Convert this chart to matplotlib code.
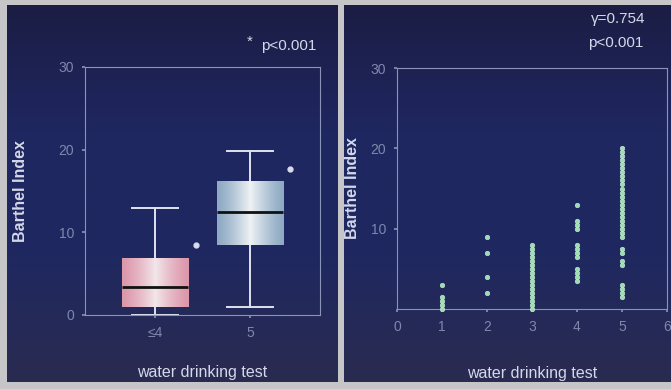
import numpy as np
import matplotlib
matplotlib.use("Agg")
import matplotlib.pyplot as plt
from matplotlib.colors import LinearSegmentedColormap

plt.rcParams['font.family'] = ['Liberation Sans', 'DejaVu Sans']

# ---- box plot: Barthel Index by water drinking test group ----
groups = ["≤4", "5"]
whisker_low = [0.0, 1.0]
q1 = [1.0, 8.5]
median = [3.4, 12.4]
q3 = [6.9, 16.2]
whisker_high = [13.0, 19.8]
sig_x = [1.43, 2.42]
sig_y = [8.5, 17.7]
box_edge_colors = ["#dc97aa", "#8eaac4"]
box_center_colors = ["#f2e6ea", "#eef2f4"]

# ---- scatter: Barthel Index per water drinking test score ----
score_1 = [0, 0.5, 1, 1.5, 3]
score_2 = [2, 4, 7, 9]
score_3 = [0, 0.5, 1, 1.5, 2, 2.5, 3, 3.5, 4, 4.5, 5, 5.5, 6, 6.5, 7, 7.5, 8]
score_4 = [3.5, 4, 4.5, 5, 6.5, 7, 7.5, 8, 10, 10.5, 11, 13]
score_5 = [1.5, 2, 2.5, 3, 5.5, 6, 7, 7.5,
           9, 9.5, 10, 10.5, 11, 11.5, 12, 12.5, 13, 13.5, 14, 14.5, 15,
           15.5, 16, 16.5, 17, 17.5, 18, 18.5, 19, 19.5, 20]
scores = [1, 2, 3, 4, 5]
barthel = [score_1, score_2, score_3, score_4, score_5]

W, H = 671, 389
fig = plt.figure(figsize=(W / 100, H / 100), dpi=100)
fig.patch.set_facecolor("#c6c6c8")

# dark panels with a soft vertical shading
panel_cmap = LinearSegmentedColormap.from_list(
    "panel", ["#2a2b50", "#1f2860", "#1f2760", "#1b1d44"])
shade = np.linspace(0, 1, 256)[:, np.newaxis]
for x0, x1 in [(7, 338), (344, 671)]:
    bg = fig.add_axes([x0 / W, 7 / H, (x1 - x0) / W, (384 - 7) / H],
                      zorder=-1)
    bg.imshow(shade, cmap=panel_cmap, aspect="auto", origin="lower",
              extent=[0, 1, 0, 1], interpolation="bilinear")
    bg.set_axis_off()

spine_color = "#8c93b8"
tick_color = "#7f88ab"
label_color = "#d4d8ea"


def style_axes(ax):
    ax.set_facecolor("none")
    for s in ax.spines.values():
        s.set_color(spine_color)
        s.set_linewidth(0.8)
    ax.tick_params(colors=spine_color, labelcolor=tick_color, length=2,
                   width=1.2, labelsize=10, pad=6)


# left panel
ax1 = fig.add_axes([85 / W, (H - 315) / H, 235 / W, 248 / H])
style_axes(ax1)
stats = []
for i in range(len(groups)):
    stats.append(dict(med=median[i], q1=q1[i], q3=q3[i],
                      whislo=whisker_low[i], whishi=whisker_high[i],
                      fliers=[], label=groups[i]))
positions = [1, 2]
box_w = 0.7
ax1.bxp(stats, positions=positions, widths=box_w, capwidths=0.49,
        showfliers=False, patch_artist=True,
        boxprops=dict(facecolor="none", edgecolor="none"),
        medianprops=dict(color="#111111", linewidth=2.0, zorder=4),
        whiskerprops=dict(color="#dfe3f0", linewidth=1.4),
        capprops=dict(color="#dfe3f0", linewidth=1.4))

ramp = 1 - np.abs(np.linspace(-1, 1, 256))
for i, pos in enumerate(positions):
    cmap = LinearSegmentedColormap.from_list(
        "g%d" % i, [box_edge_colors[i], box_center_colors[i]])
    ax1.imshow(ramp[np.newaxis, :] ** 1.3, cmap=cmap, aspect="auto",
               extent=[pos - box_w / 2, pos + box_w / 2, q1[i], q3[i]],
               zorder=3, interpolation="bilinear")
ax1.plot(sig_x, sig_y, "o", color="#d8dcea", markersize=3.5, zorder=5)

ax1.set_xlim(0.263, 2.737)
ax1.set_ylim(0, 30)
ax1.set_yticks([0, 10, 20, 30])
ax1.set_xticks(positions)
ax1.set_xticklabels(groups)
ax1.set_ylabel("Barthel Index", color=label_color, fontsize=11.5,
               fontweight="bold")
ax1.yaxis.set_label_coords(-0.243, 0.5)
ax1.set_xlabel("water drinking test", color=label_color, fontsize=11.5)
ax1.xaxis.set_label_coords(0.5, -0.20)
ax1.text(0.70, 1.10, "*", transform=ax1.transAxes, color=label_color,
         fontsize=11, ha="center", va="center")
ax1.text(0.75, 1.085, "p<0.001", transform=ax1.transAxes, color=label_color,
         fontsize=11, ha="left", va="center")

# right panel
ax2 = fig.add_axes([397 / W, (H - 309) / H, 270 / W, 241 / H])
style_axes(ax2)
for s, vals in zip(scores, barthel):
    ax2.plot([s] * len(vals), vals, "o", color="#9fdcb4",
             markeredgecolor="#c9ecd6", markeredgewidth=0.4,
             markersize=3.3, zorder=3, clip_on=False)
ax2.set_xlim(0, 6)
ax2.set_ylim(0, 30)
ax2.set_xticks(range(0, 7))
ax2.set_yticks([10, 20, 30])
ax2.set_ylabel("Barthel Index", color=label_color, fontsize=11.5,
               fontweight="bold")
ax2.yaxis.set_label_coords(-0.137, 0.5)
ax2.set_xlabel("water drinking test", color=label_color, fontsize=11.5)
ax2.xaxis.set_label_coords(0.5, -0.235)
ax2.text(0.82, 1.205, "γ=0.754", transform=ax2.transAxes, color=label_color,
         fontsize=11, ha="center", va="center")
ax2.text(0.81, 1.105, "p<0.001", transform=ax2.transAxes, color=label_color,
         fontsize=11, ha="center", va="center")

fig.savefig("out.png", dpi=100, facecolor=fig.get_facecolor())
